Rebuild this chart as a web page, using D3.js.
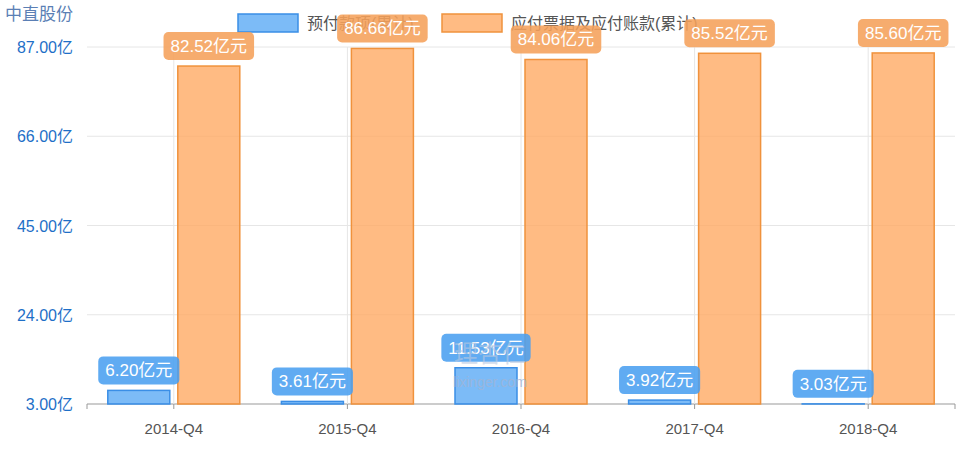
<!DOCTYPE html><html><head><meta charset="utf-8"><script src="https://cdn.jsdelivr.net/npm/d3@7"></script>
<style>body{margin:0;background:#fff}</style></head><body><svg id="c" width="960" height="450"></svg>
<script>
const categories=["2014-Q4","2015-Q4","2016-Q4","2017-Q4","2018-Q4"];
const prepay=[6.20,3.61,11.53,3.92,3.03];
const payable=[82.52,86.66,84.06,85.52,85.60];
const yTicks=[3,24,45,66,87];
const seriesNames=["预付款项(累计)","应付票据及应付账款(累计)"];
const svg=d3.select("#c");
const F='"Liberation Sans","Noto Sans CJK SC",sans-serif';
const x=d3.scaleBand().domain(categories).range([87,955]);
const y=d3.scaleLinear().domain([3,87]).range([404,47]);
const g=svg.append("g");
yTicks.forEach(t=>{g.append("line").attr("x1",87).attr("x2",955).attr("y1",y(t)).attr("y2",y(t)).attr("stroke",t==3?"#999":"#e6e6e6");
 g.append("text").attr("x",73).attr("y",y(t)+6).attr("text-anchor","end").attr("fill","#1e6fc7").attr("font-size",16).attr("font-family",F).text(t.toFixed(2)+"亿");});
categories.forEach(c=>{const cx=x(c)+x.bandwidth()/2;
 g.append("line").attr("x1",cx).attr("x2",cx).attr("y1",47).attr("y2",404).attr("stroke","#e6e6e6");
 g.append("line").attr("x1",cx).attr("x2",cx).attr("y1",404).attr("y2",409).attr("stroke","#999");
 g.append("text").attr("x",cx).attr("y",434).attr("text-anchor","middle").attr("fill","#555").attr("font-size",15).attr("font-family",F).text(c);});
g.append("line").attr("x1",87).attr("x2",87).attr("y1",404).attr("y2",409).attr("stroke","#999");
g.append("line").attr("x1",955).attr("x2",955).attr("y1",404).attr("y2",409).attr("stroke","#999");
svg.append("text").attr("x",5).attr("y",20).attr("fill","#5b7fb5").attr("font-size",17).attr("font-family",F).text("中直股份");
const bw=62;
const cols=[{f:"rgba(91,170,245,0.8)",s:"#3a8ee6",l:"#4a9ff0"},{f:"rgba(255,170,100,0.8)",s:"#f0923c",l:"#f5a05a"}];
[[238,seriesNames[0]],[442,seriesNames[1]]].forEach(([lx,n],i)=>{
 svg.append("rect").attr("x",lx).attr("y",14).attr("width",60).attr("height",18).attr("fill",cols[i].f).attr("stroke",cols[i].s).attr("stroke-width",1.5);
 svg.append("text").attr("x",lx+69).attr("y",29).attr("fill","#555").attr("font-size",16).attr("font-family",F).text(n);});
[prepay,payable].forEach((arr,si)=>{
 arr.forEach((v,i)=>{const c=categories[i];const bx=x(c)+x.bandwidth()/2+(si==0?-bw-4:4);
  svg.append("rect").attr("x",bx).attr("y",y(v)).attr("width",bw).attr("height",y(3)-y(v)).attr("fill",cols[si].f).attr("stroke",cols[si].s).attr("stroke-width",1.5);});});
[prepay,payable].forEach((arr,si)=>{
 arr.forEach((v,i)=>{const c=categories[i];const bx=x(c)+x.bandwidth()/2+(si==0?-bw-4:4);
  const t=v.toFixed(2)+"亿元";const cx=bx+bw/2,cy=y(v)-20;
  const lg=svg.append("g");
  const txt=lg.append("text").attr("x",cx).attr("y",cy+6).attr("text-anchor","middle").attr("fill","#fff").attr("font-size",17).attr("font-family",F).text(t);
  const w=txt.node().getComputedTextLength()+14;
  lg.insert("rect","text").attr("x",cx-w/2).attr("y",cy-14).attr("width",w).attr("height",28).attr("rx",5).attr("fill",cols[si].l).attr("opacity",0.88);
 });});
svg.append("text").attr("x",490).attr("y",362).attr("text-anchor","middle").attr("fill","#b8c8e0").attr("font-size",24).attr("font-family",F).attr("opacity",0.6).text("理杏仁");
svg.append("text").attr("x",490).attr("y",387).attr("text-anchor","middle").attr("fill","#9fb6d8").attr("font-size",14).attr("font-family",F).attr("opacity",0.8).text("lixinger.com");
</script></body></html>
